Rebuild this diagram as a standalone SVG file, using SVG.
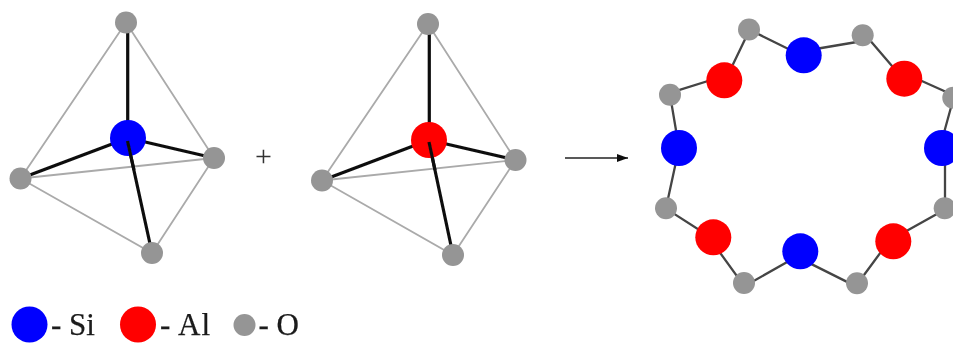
<svg xmlns="http://www.w3.org/2000/svg" width="953" height="343" viewBox="0 0 953 343">
<style>
.si{fill:#0000ff}.al{fill:#ff0000}.o{fill:#959595}
.thin{stroke:#aaaaaa;stroke-width:1.8;fill:none}
.bond{stroke:#111111;stroke-width:3.2;fill:none}
.ring{stroke:#444444;stroke-width:2.3;fill:none}
.lbl{font-family:"Liberation Serif","Times New Roman",serif;font-size:31px;fill:#1a1a1a;stroke:#1a1a1a;stroke-width:0.25}
.plus{font-size:30px;stroke:none;fill:#333333}
</style>
<defs>
<filter id="soft" x="-5%" y="-5%" width="110%" height="110%"><feGaussianBlur stdDeviation="0.5"/></filter>
<marker id="head" markerUnits="userSpaceOnUse" markerWidth="12" markerHeight="10" refX="11" refY="5" orient="auto"><path d="M0 1 L11 5 L0 9 Z" fill="#111111"/></marker>
</defs>
<g filter="url(#soft)">
<g id="connectors">
<path class="thin" d="M126 22.5L20.5 178.5L152 253L214 158L126 22.5M20.5 178.5L214 158"/>
<path class="bond" d="M127.7 138V22.5M128 138L20.5 178.5M128 138L214 158M127.5 141L152 253"/>
<path class="thin" d="M428 24L322 180.5L453 255L515.5 160L428 24M322 180.5L515.5 160"/>
<path class="bond" d="M429.3 140V24M429 140L322 180.5M429 140L515.5 160M429 142L453 255"/>
<path d="M565 158H628" stroke="#222222" stroke-width="1.7" fill="none" marker-end="url(#head)"/>
<path class="ring" d="M749 31L732.7 65M749 29.5L803.7 56.5M803.7 51L862.7 41M862 31L904 80M904 73L953 95M953 100L942 140M945 150V208M945 209.4L893 238.6M893 235.6L857 284.5M857 286.9L800 258.4M800 254.8L744 286.5M744 285.8L713 243M713 238.8L666 208.6M666 208L679 148M679 148L670 94.7M670 92.9L724 76"/>
</g>
<g id="tetra-si">
<circle id="t1-top" class="o" cx="126" cy="22.5" r="11"/>
<circle id="t1-right" class="o" cx="214" cy="158" r="11"/>
<circle id="t1-left" class="o" cx="20.5" cy="178.5" r="11"/>
<circle id="t1-bottom" class="o" cx="152" cy="253" r="11"/>
<circle id="t1-center" class="si" cx="128" cy="138" r="18"/>
<path class="bond" d="M127.5 141L134 170"/>
</g>
<g id="tetra-al">
<circle id="t2-top" class="o" cx="428" cy="24" r="11"/>
<circle id="t2-right" class="o" cx="515.5" cy="160" r="11"/>
<circle id="t2-left" class="o" cx="322" cy="180.5" r="11"/>
<circle id="t2-bottom" class="o" cx="453" cy="255" r="11"/>
<circle id="t2-center" class="al" cx="429" cy="140" r="18"/>
<path class="bond" d="M429 142L435 170"/>
</g>
<g id="plus"><text class="lbl plus" x="263.5" y="166" text-anchor="middle">+</text></g>
<g id="ring">
<circle class="o" cx="749" cy="29.5" r="11"/>
<circle class="si" cx="803.7" cy="55.3" r="18"/>
<circle class="o" cx="862.7" cy="35.3" r="11"/>
<circle class="al" cx="904.3" cy="78.7" r="18"/>
<circle class="o" cx="953.3" cy="97.7" r="11"/>
<circle class="si" cx="942" cy="148" r="18"/>
<circle class="o" cx="944.7" cy="208.3" r="11"/>
<circle class="al" cx="893.3" cy="241.3" r="18"/>
<circle class="o" cx="857" cy="283.3" r="11"/>
<circle class="si" cx="800.3" cy="251.3" r="18"/>
<circle class="o" cx="744" cy="283" r="11"/>
<circle class="al" cx="713.3" cy="237.3" r="18"/>
<circle class="o" cx="666" cy="208.3" r="11"/>
<circle class="si" cx="679" cy="148" r="18"/>
<circle class="o" cx="670" cy="94.7" r="11"/>
<circle class="al" cx="724.3" cy="80.3" r="18"/>
</g>
<g id="legend-si"><circle class="si" cx="29.5" cy="324.5" r="18"/><text class="lbl" x="51" y="335">- Si</text></g>
<g id="legend-al"><circle class="al" cx="138" cy="324.5" r="18"/><text class="lbl" x="160" y="335" textLength="50">- Al</text></g>
<g id="legend-o"><circle class="o" cx="244.5" cy="325" r="11"/><text class="lbl" x="258.5" y="335">- O</text></g>
</g>
</svg>
